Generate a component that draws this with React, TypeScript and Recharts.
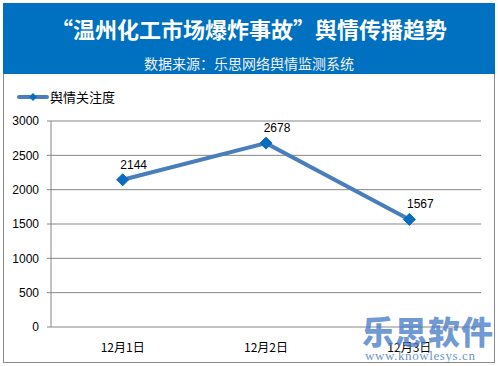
import React from "react";
import {
  LineChart,
  Line,
  XAxis,
  YAxis,
  CartesianGrid,
  LabelList,
} from "recharts";

const CATEGORIES = ["12月1日", "12月2日", "12月3日"];
const ATTENTION = [2144, 2678, 1567];
const Y_TICKS = [0, 500, 1000, 1500, 2000, 2500, 3000];
const BOUNDARY_TICKS = [0, 1, 2, 3];

const SERIES_NAME = "舆情关注度";
const TITLE = "“温州化工市场爆炸事故”舆情传播趋势";
const SUBTITLE = "数据来源：乐思网络舆情监测系统";

const data = CATEGORIES.map((day, i) => ({ day, value: ATTENTION[i] }));

const CJK = "'Noto Sans CJK SC', 'Microsoft YaHei', sans-serif";
const NUM = "'Liberation Sans', 'DejaVu Sans', sans-serif";

const Diamond = (props: any) => {
  const { cx, cy } = props;
  if (cx == null || cy == null) return null;
  const r = 6;
  return (
    <path
      d={`M${cx},${cy - r} L${cx + r},${cy} L${cx},${cy + r} L${cx - r},${cy} Z`}
      fill="#0a6cc0"
      stroke="#0a6cc0"
      strokeWidth={1}
    />
  );
};

export default function App() {
  return (
    <div style={{ position: "absolute", left: 0, top: 0, width: 498, height: 366, background: "#fff" }}>
      <div
        style={{
          position: "absolute",
          left: 3,
          top: 3,
          width: 490,
          height: 359,
          border: "1px solid #8a8a8a",
          borderTop: "none",
        }}
      />
      <div
        style={{
          position: "absolute",
          left: 3,
          top: 3,
          width: 492,
          height: 71,
          background: "#0070c0",
          color: "#fff",
          textAlign: "center",
        }}
      >
        <div style={{ fontFamily: CJK, fontWeight: 700, fontSize: 22, lineHeight: "22px", marginTop: 14 }}>{TITLE}</div>
        <div style={{ fontFamily: CJK, fontSize: 14, lineHeight: "14px", marginTop: 17, color: "#f2f2f2" }}>{SUBTITLE}</div>
      </div>
      {/* legend */}
      <div style={{ position: "absolute", left: 17, top: 89, display: "flex", alignItems: "center" }}>
        <svg width={32} height={10}>
          <line x1={2} y1={5} x2={30} y2={5} stroke="#4a7ebb" strokeWidth={4} strokeLinecap="round" />
          <path d="M16,1 L20,5 L16,9 L12,5 Z" fill="#0a6cc0" />
        </svg>
        <span style={{ fontFamily: CJK, fontSize: 13, lineHeight: "16px", color: "#000", marginLeft: 1 }}>{SERIES_NAME}</span>
      </div>
      <div style={{ position: "absolute", left: 0, top: 0 }}>
        <LineChart width={498} height={366} data={data} margin={{ top: 121, right: 17, bottom: 9, left: 0 }}>
          <CartesianGrid vertical={false} stroke="#868686" strokeWidth={1} />
          <XAxis
            xAxisId="edges"
            type="number"
            domain={[0, 3]}
            ticks={BOUNDARY_TICKS}
            height={0}
            tick={false}
            tickSize={4}
            axisLine={{ stroke: "#868686" }}
            tickLine={{ stroke: "#868686" }}
          />
          <XAxis
            dataKey="day"
            scale="band"
            height={30}
            axisLine={false}
            tickLine={false}
            tickMargin={10}
            tick={{ fill: "#000", fontSize: 12, fontFamily: CJK }}
          />
          <YAxis
            width={51}
            domain={[0, 3000]}
            ticks={Y_TICKS}
            tickSize={4}
            tickMargin={8}
            axisLine={{ stroke: "#868686" }}
            tickLine={{ stroke: "#868686" }}
            tick={{ fill: "#000", fontSize: 12, fontFamily: NUM }}
          />
          <Line
            dataKey="value"
            name={SERIES_NAME}
            stroke="#4a7ebb"
            strokeWidth={4}
            dot={<Diamond />}
            activeDot={false}
            isAnimationActive={false}
          >
            <LabelList
              dataKey="value"
              content={(p: any) => (
                <text x={p.x + 11} y={p.y - 11} textAnchor="middle" fontSize={12} fontFamily={NUM} fill="#000">
                  {p.value}
                </text>
              )}
            />
          </Line>
        </LineChart>
      </div>
      <div
        style={{
          position: "absolute",
          left: 362,
          top: 312,
          fontFamily: CJK,
          fontWeight: 900,
          fontSize: 32,
          lineHeight: "36px",
          color: "rgba(74,126,200,0.78)",
          letterSpacing: 1,
        }}
      >
        乐思软件
      </div>
      <div
        style={{
          position: "absolute",
          left: 365,
          top: 349,
          fontFamily: "'Liberation Serif', 'DejaVu Serif', serif",
          fontSize: 13,
          lineHeight: "14px",
          color: "rgba(74,126,200,0.85)",
          letterSpacing: 0.6,
        }}
      >
        www.knowlesys.cn
      </div>
    </div>
  );
}
